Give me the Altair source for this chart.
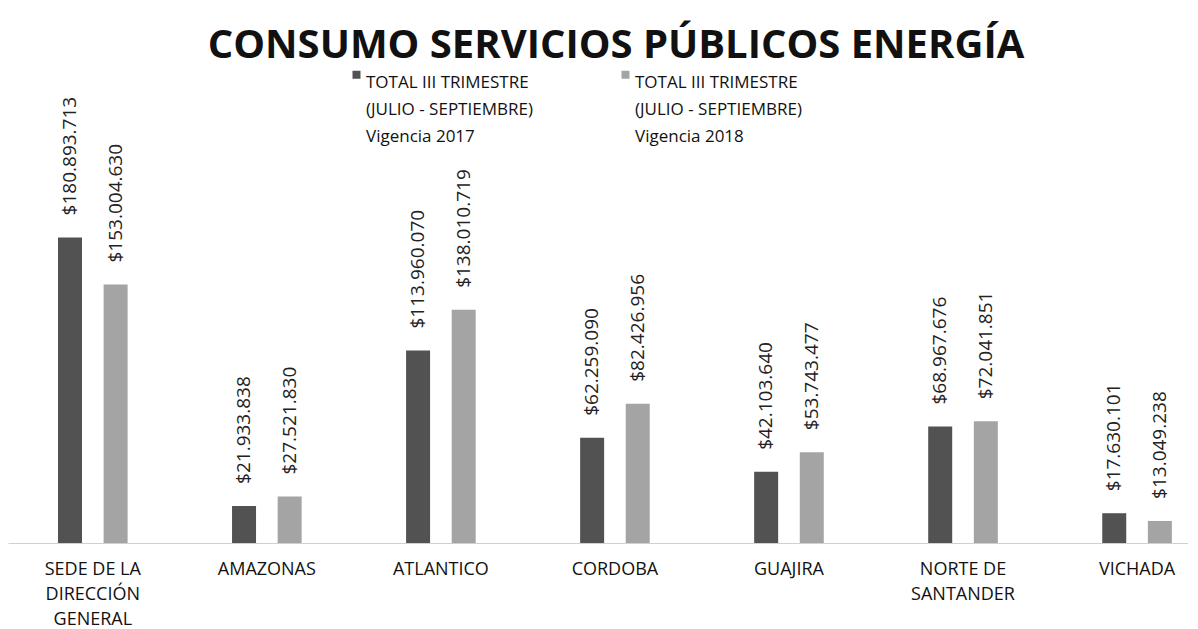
import altair as alt
import pandas as pd

categories = ["SEDE DE LA\nDIRECCIÓN\nGENERAL", "AMAZONAS", "ATLANTICO", "CORDOBA",
              "GUAJIRA", "NORTE DE\nSANTANDER", "VICHADA"]
series = ["TOTAL III TRIMESTRE\n(JULIO - SEPTIEMBRE)\nVigencia 2017",
          "TOTAL III TRIMESTRE\n(JULIO - SEPTIEMBRE)\nVigencia 2018"]
v2017 = [180893713, 21933838, 113960070, 62259090, 42103640, 68967676, 17630101]
v2018 = [153004630, 27521830, 138010719, 82426956, 53743477, 72041851, 13049238]
colors = ["#525252", "#a4a4a4"]

rows = []
for c, a, b in zip(categories, v2017, v2018):
    for s, v in zip(series, (a, b)):
        rows.append({"category": c, "series": s, "value": v,
                     "label": "$" + f"{v:,}".replace(",", ".")})
df = pd.DataFrame(rows)

x = alt.X("category:N", sort=categories,
          scale=alt.Scale(paddingInner=0.6, paddingOuter=0.19, align=0.756),
          axis=alt.Axis(title=None, labelAngle=0, ticks=False,
                        labelExpr="split(datum.label, '\\n')",
                        domainColor="#d0d0d0", labelFont="Open Sans",
                        labelFontSize=18, labelColor="#111111", labelPadding=17,
                        labelLineHeight=25, labelLimit=400))
xo = alt.XOffset("series:N", sort=series,
                 scale=alt.Scale(paddingInner=0.474, paddingOuter=0))
y = alt.Y("value:Q", scale=alt.Scale(domain=[0, 280000000]), axis=None)

bars = alt.Chart(df).mark_bar().encode(
    x=x, xOffset=xo, y=y,
    color=alt.Color("series:N", sort=series,
                    scale=alt.Scale(domain=series, range=colors),
                    legend=alt.Legend(title=None, orient="none", legendX=340, legendY=-4,
                                      direction="horizontal",
                                      labelExpr="split(datum.label, '\\n')",
                                      labelFont="Open Sans", labelFontSize=17,
                                      labelColor="#111111", labelLimit=400,
                                      labelBaseline="top", labelOffset=1,
                                      symbolType="square", symbolSize=64,
                                      symbolStrokeWidth=0, columnPadding=84)),
)

texts = alt.Chart(df).mark_text(angle=270, align="left", baseline="middle", dx=22,
                                font="Open Sans", fontSize=19, color="#222222").encode(
    x=x, xOffset=xo, y=y, text="label:N")

chart = alt.layer(bars, texts).properties(
    width=1180, height=473,
    title=alt.TitleParams("CONSUMO SERVICIOS PÚBLICOS ENERGÍA", font="Open Sans",
                          fontSize=40, fontWeight="bold", color="#111111",
                          anchor="middle", dx=18, dy=42, offset=10, baseline="alphabetic"),
    autosize=alt.AutoSizeParams(type="none"),
    padding={"left": 0, "top": 62, "right": 0, "bottom": 85},
).configure(view={"strokeWidth": 0, "stroke": "transparent"},
            style={"guide-label": {"lineHeight": 27}})

chart.save("out.html", embed_options={"renderer": "svg", "actions": False})
